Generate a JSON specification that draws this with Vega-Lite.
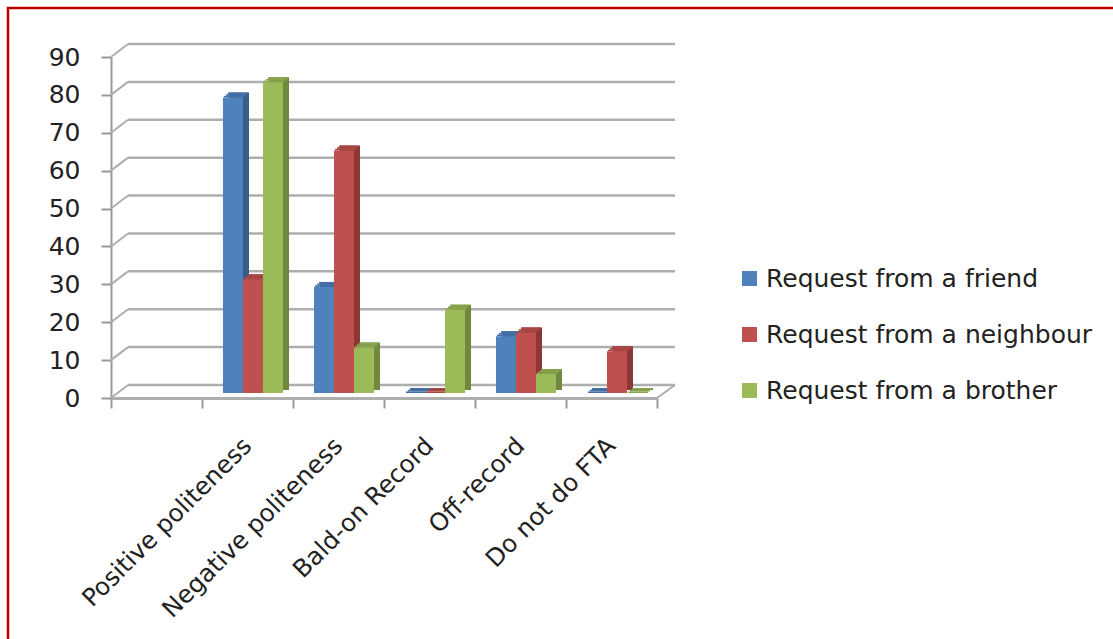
{
  "$schema": "https://vega.github.io/schema/vega-lite/v6.json",
  "width": 546,
  "height": 341,
  "autosize": "none",
  "padding": {"left": 111, "top": 57, "right": 456, "bottom": 241},
  "background": "white",
  "config": {"view": {"stroke": null}, "font": "DejaVu Sans"},
  "datasets": {
    "ticks": [{"t": 0}, {"t": 10}, {"t": 20}, {"t": 30}, {"t": 40}, {"t": 50}, {"t": 60}, {"t": 70}, {"t": 80}, {"t": 90}],
    "bars": [
      {"category": "Positive politeness", "series": "Request from a friend", "value": 78},
      {"category": "Positive politeness", "series": "Request from a neighbour", "value": 30},
      {"category": "Positive politeness", "series": "Request from a brother", "value": 82},
      {"category": "Negative politeness", "series": "Request from a friend", "value": 28},
      {"category": "Negative politeness", "series": "Request from a neighbour", "value": 64},
      {"category": "Negative politeness", "series": "Request from a brother", "value": 12},
      {"category": "Bald-on Record", "series": "Request from a friend", "value": 0},
      {"category": "Bald-on Record", "series": "Request from a neighbour", "value": 0},
      {"category": "Bald-on Record", "series": "Request from a brother", "value": 22},
      {"category": "Off-record", "series": "Request from a friend", "value": 15},
      {"category": "Off-record", "series": "Request from a neighbour", "value": 16},
      {"category": "Off-record", "series": "Request from a brother", "value": 5},
      {"category": "Do not do FTA", "series": "Request from a friend", "value": 0},
      {"category": "Do not do FTA", "series": "Request from a neighbour", "value": 11},
      {"category": "Do not do FTA", "series": "Request from a brother", "value": 0}
    ]
  },
  "resolve": {"scale": {"color": "independent", "x": "independent"}},
  "layer": [
    {
      "description": "Outer frame of the figure, running off the right and bottom edges",
      "data": {"values": [{"frame": 1}]},
      "mark": {"type": "rect", "fill": "transparent", "stroke": "#c00000", "strokeWidth": 2.5, "clip": false},
      "encoding": {
        "x": {"value": -103},
        "x2": {"value": 1100},
        "y": {"value": -49},
        "y2": {"value": 700}
      }
    },
    {
      "description": "Gridlines on the back wall; this layer also carries the value axis",
      "data": {"name": "ticks"},
      "mark": {"type": "rule", "color": "#aeaeae", "strokeWidth": 2.5, "yOffset": -13, "y2Offset": -13, "clip": false},
      "encoding": {
        "x": {"value": 17},
        "x2": {"value": 564},
        "y": {
          "field": "t", "type": "quantitative", "title": null, "scale": {"domain": [0, 90]},
          "axis": {
            "tickCount": 9, "labelOverlap": false, "grid": false,
            "labelFontSize": 25, "labelColor": "#222222", "labelPadding": 21, "tickSize": 10, "tickColor": "#999999", "tickWidth": 2,
            "domainColor": "#999999", "domainWidth": 2
          }
        },
        "y2": {"field": "t"}
      }
    },
    {
      "description": "Side wall slants joining the axis to the back wall",
      "data": {"name": "ticks"},
      "mark": {"type": "rule", "color": "#aeaeae", "strokeWidth": 2, "y2Offset": -13, "clip": false},
      "encoding": {
        "x": {"value": 0},
        "x2": {"value": 17},
        "y": {"field": "t", "type": "quantitative", "title": null},
        "y2": {"field": "t"}
      }
    },
    {
      "description": "Right edge of the floor",
      "data": {"values": [{"t": 0}]},
      "mark": {"type": "rule", "color": "#aeaeae", "strokeWidth": 2, "y2Offset": -13, "clip": false},
      "encoding": {
        "x": {"value": 546},
        "x2": {"value": 564},
        "y": {"field": "t", "type": "quantitative", "title": null},
        "y2": {"field": "t"}
      }
    },
    {
      "description": "Category axis on the front edge of the floor, with ticks between the categories",
      "data": {"name": "bars"},
      "mark": {"type": "tick", "opacity": 0},
      "encoding": {
        "x": {
          "field": "category", "type": "nominal", "sort": null, "title": null,
          "scale": {"domain": [" ", "Positive politeness", "Negative politeness", "Bald-on Record", "Off-record", "Do not do FTA"], "paddingInner": 0, "paddingOuter": 0},
          "axis": {
            "tickBand": "extent", "labelAngle": -45, "labelAlign": "right", "labelBaseline": "middle",
            "labelFontSize": 24.5, "labelColor": "#222222", "labelPadding": 34, "tickSize": 10, "tickColor": "#999999", "tickWidth": 2,
            "domainColor": "#aeaeae", "domainWidth": 3, "labelOverlap": false, "labelLimit": 400, "grid": false
          }
        },
        "y": {"datum": 0, "type": "quantitative", "title": null}
      }
    },
    {
      "description": "Bar side faces, shifted back and to the right",
      "data": {"name": "bars"},
      "mark": {"type": "bar", "yOffset": -10, "y2Offset": -8},
      "encoding": {
        "x": {"field": "category", "type": "nominal", "sort": null, "axis": null, "scale": {"domain": [" ", "Positive politeness", "Negative politeness", "Bald-on Record", "Off-record", "Do not do FTA"], "paddingInner": 0.34, "paddingOuter": 0.17, "range": [11.5, 557.5]}},
        "xOffset": {"field": "series", "type": "nominal", "scale": {"domain": ["Request from a friend", "Request from a neighbour", "Request from a brother"]}},
        "y": {"field": "value", "type": "quantitative", "title": null},
        "y2": {"datum": 0},
        "color": {"field": "series", "type": "nominal", "legend": null, "scale": {"domain": ["Request from a friend", "Request from a neighbour", "Request from a brother"], "range": ["#385d8a", "#8c3836", "#71893f"]}}
      }
    },
    {
      "description": "Bar top faces, rear strip",
      "data": {"name": "bars"},
      "mark": {"type": "bar", "yOffset": -10, "y2Offset": -8.3},
      "encoding": {
        "x": {"field": "category", "type": "nominal", "sort": null, "axis": null, "scale": {"domain": [" ", "Positive politeness", "Negative politeness", "Bald-on Record", "Off-record", "Do not do FTA"], "paddingInner": 0.34, "paddingOuter": 0.17, "range": [10.5, 556.5]}},
        "xOffset": {"field": "series", "type": "nominal", "scale": {"domain": ["Request from a friend", "Request from a neighbour", "Request from a brother"]}},
        "y": {"field": "value", "type": "quantitative", "title": null},
        "y2": {"field": "value"},
        "color": {"field": "series", "type": "nominal", "legend": null, "scale": {"domain": ["Request from a friend", "Request from a neighbour", "Request from a brother"], "range": ["#4571a6", "#a94744", "#88a44e"]}}
      }
    },
    {
      "description": "Bar top faces, middle strip",
      "data": {"name": "bars"},
      "mark": {"type": "bar", "yOffset": -8.3, "y2Offset": -6.6},
      "encoding": {
        "x": {"field": "category", "type": "nominal", "sort": null, "axis": null, "scale": {"domain": [" ", "Positive politeness", "Negative politeness", "Bald-on Record", "Off-record", "Do not do FTA"], "paddingInner": 0.34, "paddingOuter": 0.17, "range": [8.5, 554.5]}},
        "xOffset": {"field": "series", "type": "nominal", "scale": {"domain": ["Request from a friend", "Request from a neighbour", "Request from a brother"]}},
        "y": {"field": "value", "type": "quantitative", "title": null},
        "y2": {"field": "value"},
        "color": {"field": "series", "type": "nominal", "legend": null, "scale": {"domain": ["Request from a friend", "Request from a neighbour", "Request from a brother"], "range": ["#4571a6", "#a94744", "#88a44e"]}}
      }
    },
    {
      "description": "Bar top faces, front strip",
      "data": {"name": "bars"},
      "mark": {"type": "bar", "yOffset": -6.6, "y2Offset": -5},
      "encoding": {
        "x": {"field": "category", "type": "nominal", "sort": null, "axis": null, "scale": {"domain": [" ", "Positive politeness", "Negative politeness", "Bald-on Record", "Off-record", "Do not do FTA"], "paddingInner": 0.34, "paddingOuter": 0.17, "range": [6.5, 552.5]}},
        "xOffset": {"field": "series", "type": "nominal", "scale": {"domain": ["Request from a friend", "Request from a neighbour", "Request from a brother"]}},
        "y": {"field": "value", "type": "quantitative", "title": null},
        "y2": {"field": "value"},
        "color": {"field": "series", "type": "nominal", "legend": null, "scale": {"domain": ["Request from a friend", "Request from a neighbour", "Request from a brother"], "range": ["#4571a6", "#a94744", "#88a44e"]}}
      }
    },
    {
      "description": "Bar front faces and the legend",
      "data": {"name": "bars"},
      "mark": {"type": "bar", "yOffset": -5, "y2Offset": -5},
      "encoding": {
        "x": {"field": "category", "type": "nominal", "sort": null, "axis": null, "scale": {"domain": [" ", "Positive politeness", "Negative politeness", "Bald-on Record", "Off-record", "Do not do FTA"], "paddingInner": 0.34, "paddingOuter": 0.17, "range": [5.5, 551.5]}},
        "xOffset": {"field": "series", "type": "nominal", "scale": {"domain": ["Request from a friend", "Request from a neighbour", "Request from a brother"]}},
        "y": {"field": "value", "type": "quantitative", "title": null},
        "y2": {"datum": 0},
        "color": {
          "field": "series", "type": "nominal",
          "scale": {"domain": ["Request from a friend", "Request from a neighbour", "Request from a brother"], "range": ["#4f81bd", "#c0504d", "#9bbb59"]},
          "legend": {
            "title": null, "orient": "none", "legendX": 626, "legendY": 209, "symbolType": "square", "symbolSize": 225,
            "symbolStrokeWidth": 0, "labelFontSize": 25, "labelColor": "#222222", "labelLimit": 400, "rowPadding": 30, "labelOffset": 4
          }
        }
      }
    }
  ]
}
